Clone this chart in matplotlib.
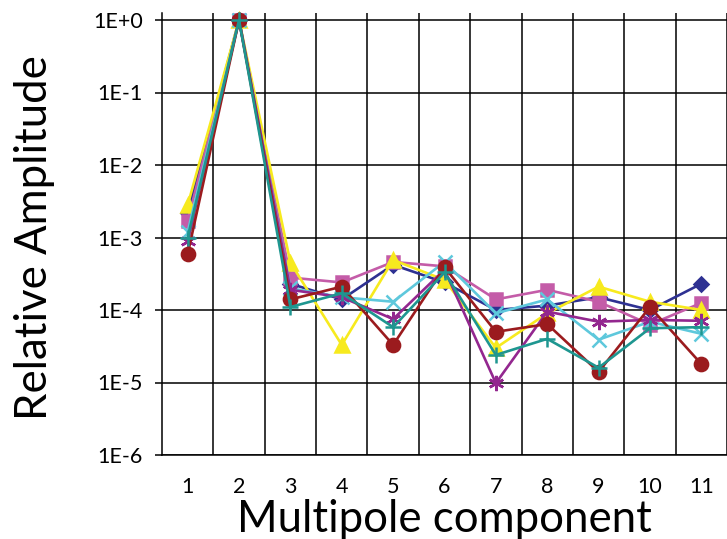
import numpy as np
import matplotlib
matplotlib.use("Agg")
import matplotlib.pyplot as plt
from matplotlib.ticker import FixedLocator, NullLocator, FixedFormatter

plt.rcParams['font.family'] = ['Lato', 'DejaVu Sans']

# Multipole order on the x axis
components = [1, 2, 3, 4, 5, 6, 7, 8, 9, 10, 11]

# Relative amplitude of each multipole, one list per series
navy   = [2.2e-3, 1.0, 2.3e-4, 1.4e-4, 4.2e-4, 2.4e-4, 1.0e-4, 1.15e-4, 1.5e-4, 1.0e-4, 2.3e-4]
pink   = [1.7e-3, 1.0, 2.8e-4, 2.4e-4, 4.6e-4, 4.0e-4, 1.4e-4, 1.9e-4, 1.3e-4, 6.3e-5, 1.25e-4]
yellow = [2.8e-3, 1.0, 4.5e-4, 3.3e-5, 4.9e-4, 2.6e-4, 3.0e-5, 9.0e-5, 2.1e-4, 1.3e-4, 1.0e-4]
cyan   = [1.2e-3, 1.0, 2.0e-4, 1.5e-4, 1.3e-4, 4.6e-4, 9.0e-5, 1.4e-4, 3.9e-5, 6.9e-5, 4.7e-5]
purple = [9.0e-4, 1.0, 1.9e-4, 1.5e-4, 7.5e-5, 3.6e-4, 9.8e-6, 9.5e-5, 6.9e-5, 7.3e-5, 7.1e-5]
red    = [5.9e-4, 1.0, 1.4e-4, 2.1e-4, 3.3e-5, 3.9e-4, 5.0e-5, 6.4e-5, 1.4e-5, 1.1e-4, 1.8e-5]
teal   = [1.0e-3, 1.0, 1.1e-4, 1.7e-4, 5.8e-5, 3.3e-4, 2.4e-5, 4.0e-5, 1.6e-5, 5.6e-5, 5.8e-5]

ytick_values = [1e0, 1e-1, 1e-2, 1e-3, 1e-4, 1e-5, 1e-6]
ytick_labels = ['1E+0', '1E-1', '1E-2', '1E-3', '1E-4', '1E-5', '1E-6']

# (data, colour, marker, marker size)
series = [
    (navy,   '#2E3192', 'D', 7.5),
    (pink,   '#C45CA8', 's', 9),
    (yellow, '#F7EA1E', '^', 10),
    (cyan,   '#5EC8DC', 'x', 10),
    (purple, '#93278F', (6, 2, 0), 11),
    (red,    '#9B1B1E', 'o', 9.5),
    (teal,   '#1E9690', '+', 11),
]

fig = plt.figure(figsize=(7.27, 5.39), dpi=100)
ax = fig.add_axes([162/727, 1 - 455/539, 565/727, 442/539])

for data, colour, marker, ms in series:
    ax.plot(components, data, color=colour, lw=1.9, marker=marker,
            ms=ms, mec=colour, mfc=colour, mew=1.8, clip_on=False)

ax.set_yscale('log')
ax.set_ylim(1e-6, 10**(7/72.5))
ax.set_xlim(0.5, 0.5 + 565/51.9)

# Decade lines across, category boundaries down
ax.yaxis.set_major_locator(FixedLocator(ytick_values))
ax.yaxis.set_major_formatter(FixedFormatter(ytick_labels))
ax.yaxis.set_minor_locator(NullLocator())
ax.set_xticks(components)
ax.set_xticks(np.arange(1.5, 12, 1), minor=True)
ax.grid(True, axis='y', which='major', color='black', lw=1.1)
ax.grid(True, axis='x', which='minor', color='black', lw=1.1)
ax.set_axisbelow(True)

ax.tick_params(axis='y', which='major', length=5, width=1.1, pad=9,
               labelsize=15.5, color='black')
ax.tick_params(axis='x', which='both', length=0, pad=16, labelsize=15.5)

for side in ['top', 'right']:
    ax.spines[side].set_visible(False)
for side in ['left', 'bottom']:
    ax.spines[side].set_color('black')
    ax.spines[side].set_linewidth(1.1)

fig.text(444/727, 1 - 532/539, 'Multipole component', fontsize=31.5,
         ha='center', va='baseline')
fig.text(14/727, 1 - 238/539, 'Relative Amplitude', fontsize=31.5,
         rotation=90, ha='left', va='center')

fig.savefig('out.png', dpi=100)
